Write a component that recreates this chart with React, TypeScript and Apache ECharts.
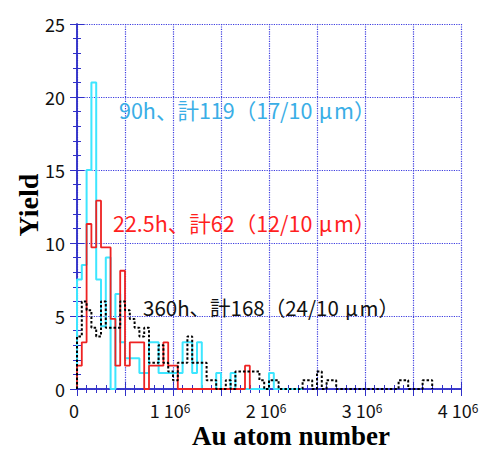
import React, { useEffect, useRef } from "react";
import * as echarts from "echarts";

// Histogram bin width (Au atom number)
const binWidth = 50000;

// Yield per bin (bins start at 0, width binWidth)
const cyanYield = [
  7.5, 8.5, 15, 21, 7.5, 4.3, 9, 0, 6.5, 3.2,
  2.1, 2.1, 2.1, 1.1, 1.1, 3.2, 3.2, 1.1, 1.1, 1.1,
  1.1, 1.1, 3.2, 3.2, 1.1, 3.2, 0, 0, 0, 1.1,
  0, 0, 1.1, 0, 0, 0, 0, 0, 0, 0,
  1.1, 0, 0, 0, 0, 0, 0,
];
const redYield = [
  1.6, 3.2, 11.3, 9.7, 12.9, 9.7, 9.7, 4.8, 1.6, 8.1,
  1.6, 3.2, 3.2, 3.2, 0, 1.6, 1.6, 1.6, 3.2, 1.6,
  1.6, 0, 0, 0, 0, 0, 0, 0, 0, 0,
  0, 0, 0, 0, 0, 1.6,
];
const blackYield = [
  3.6, 6.0, 5.4, 4.2, 3.6, 6.0, 4.2, 4.2, 4.2, 6.0,
  5.4, 4.8, 4.2, 3.6, 4.2, 1.8, 1.8, 3.0, 1.8, 1.2,
  0.6, 1.8, 1.8, 3.6, 1.8, 1.8, 1.8, 0.6, 0.6, 0,
  0, 0.6, 0, 1.2, 1.2, 1.2, 1.2, 1.2, 0.6, 0,
  0.6, 0.6, 0, 0, 0, 0, 0, 0.6, 0.6, 0,
  1.2, 0, 0.6, 0.6, 0, 0, 0, 0, 0, 0,
  0, 0, 0, 0, 0, 0, 0, 0.6, 0.6, 0,
  0, 0, 0.6, 0.6,
];

const xTickValues = [0, 1000000, 2000000, 3000000, 4000000];
const yTickValues = [0, 5, 10, 15, 20, 25];

const labelCyan = "90h、計119（17/10μm）";
const labelRed = "22.5h、計62（12/10μm）";
const labelBlack = "360h、計168（24/10μm）";
const xTitle = "Au atom number";
const yTitle = "Yield";

function stepPoints(values: number[]): number[][] {
  const pts: number[][] = [[0, 0]];
  values.forEach((v, i) => {
    pts.push([i * binWidth, v]);
    pts.push([(i + 1) * binWidth, v]);
  });
  pts.push([values.length * binWidth, 0]);
  return pts;
}

const FRAME = "#3030c8";
const GRID = "#3c3ce0";
const FONT = "'Noto Sans CJK JP', 'Noto Sans', sans-serif";
const SERIF = "'Liberation Serif', 'Times New Roman', serif";

function richLabel(s: string) {
  const p = s.split("μ");
  return `{a|${p[0]}}{mu|μ}{a|${p[1]}}`;
}

function annot(text: string, left: number, top: number, color: string, size: number) {
  return {
    type: "text",
    left,
    top,
    z: 10,
    style: {
      text: richLabel(text),
      rich: {
        a: { fontSize: size, fontFamily: FONT, fill: color, color },
        mu: { fontSize: size, fontFamily: FONT, fill: color, color, padding: [0, size * 0.08, 0, size * 0.3] },
      },
    },
  };
}

export default function App() {
  const ref = useRef<HTMLDivElement>(null);
  useEffect(() => {
    if (!ref.current) return;
    const chart = echarts.init(ref.current, undefined, { renderer: "svg" });
    const axisCommon = {
      axisLine: { show: true, lineStyle: { color: FRAME, width: 1.5 } },
      axisTick: { show: true, inside: true, length: 7, lineStyle: { color: FRAME, width: 1 } },
      minorTick: { show: true, splitNumber: 5, length: 4, lineStyle: { color: FRAME, width: 1 } },
    };
    chart.setOption({
      animation: false,
      backgroundColor: "#ffffff",
      grid: { left: 77, right: 25, top: 24, bottom: 64, show: false },
      xAxis: [
        {
          type: "value",
          min: 0,
          max: 4000000,
          interval: 500000,
          position: "bottom",
          ...axisCommon,
          splitLine: { show: true, lineStyle: { color: GRID, type: [1.2, 1.2], width: 1.2 } },
          axisLabel: {
            show: true,
            margin: 12,
            padding: [0, 6, 0, 0],
            color: "#111",
            fontFamily: FONT,
            fontSize: 18,
            formatter: (v: number) => {
              if (!xTickValues.includes(v)) return "";
              if (v === 0) return "{n|0}";
              return `{n|${v / 1000000} 10}{s|6}`;
            },
            rich: {
              n: { fontSize: 18, fontFamily: FONT, color: "#111", lineHeight: 18, verticalAlign: "bottom" },
              s: { fontSize: 12, fontFamily: FONT, color: "#111", lineHeight: 10, verticalAlign: "top" },
            },
          },
        },
        {
          type: "value",
          min: 0,
          max: 4000000,
          interval: 500000,
          position: "top",
          ...axisCommon,
          splitLine: { show: false },
          axisLabel: { show: false },
        },
      ],
      yAxis: [
        {
          type: "value",
          min: 0,
          max: 25,
          interval: 5,
          position: "left",
          ...axisCommon,
          splitLine: { show: true, lineStyle: { color: GRID, type: [1.2, 1.2], width: 1.2 } },
          axisLabel: {
            show: true,
            margin: 12,
            color: "#111",
            fontFamily: FONT,
            fontSize: 18,
            formatter: (v: number) => (yTickValues.includes(v) ? String(v) : ""),
          },
        },
        {
          type: "value",
          min: 0,
          max: 25,
          interval: 5,
          position: "right",
          ...axisCommon,
          splitLine: { show: false },
          axisLabel: { show: false },
        },
      ],
      series: [
        {
          type: "line",
          name: "90h",
          data: stepPoints(cyanYield),
          symbol: "none",
          lineStyle: { color: "#3de6ff", width: 2 },
          z: 3,
        },
        {
          type: "line",
          name: "22.5h",
          data: stepPoints(redYield),
          symbol: "none",
          lineStyle: { color: "#ee2222", width: 1.8 },
          z: 4,
        },
        {
          type: "line",
          name: "360h",
          data: stepPoints(blackYield),
          symbol: "none",
          lineStyle: { color: "#000000", width: 2, type: [2.5, 2] },
          z: 5,
        },
      ],
      graphic: [
        annot(labelCyan, 119, 99, "#3aaee6", 21.5),
        annot(labelRed, 113, 212, "#ff1f1f", 21.5),
        annot(labelBlack, 143, 297, "#111111", 20.5),
        {
          type: "text",
          x: 291,
          y: 436,
          style: {
            text: xTitle,
            fill: "#000",
            font: `bold 27px ${SERIF}`,
            textAlign: "center",
            textVerticalAlign: "middle",
          },
        },
        {
          type: "text",
          x: 28,
          y: 205,
          rotation: Math.PI / 2,
          style: {
            text: yTitle,
            fill: "#000",
            font: `bold 28px ${SERIF}`,
            textAlign: "center",
            textVerticalAlign: "middle",
          },
        },
      ],
    });
    return () => chart.dispose();
  }, []);
  return (
    <div
      ref={ref}
      style={{ position: "absolute", left: 0, top: 0, width: 486, height: 453 }}
    />
  );
}
